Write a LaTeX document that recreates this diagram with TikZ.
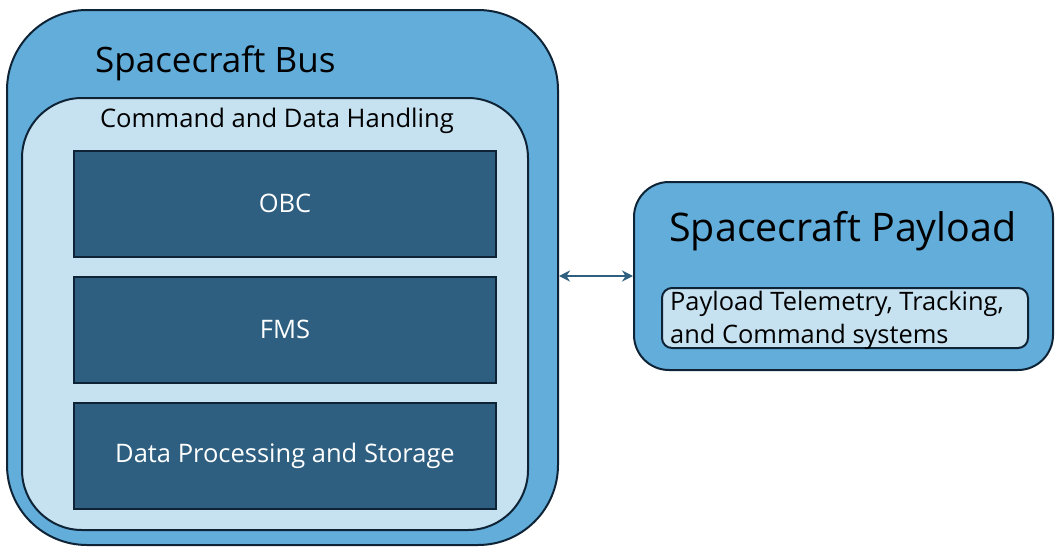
\documentclass[tikz,border=0pt]{standalone}
\usepackage{fontspec}
\setmainfont{Open Sans}
\usepackage{tikz}
\usetikzlibrary{arrows.meta, positioning}
\definecolor{busblue}{HTML}{63ADDA}
\definecolor{cdhlight}{HTML}{C6E2F1}
\definecolor{unitnavy}{HTML}{2E5F80}
\definecolor{edgedark}{HTML}{0E2436}

\begin{document}
\begin{tikzpicture}[
    x=1pt, y=-1pt,
    node distance=18pt,
    shell/.style={draw=edgedark,line width=2pt,fill=busblue},
    inner/.style={draw=edgedark,line width=2pt,fill=cdhlight},
    unit/.style={draw=edgedark,line width=2pt,fill=unitnavy,minimum width=422pt,minimum height=106pt,text=white,font=\fontsize{25.5}{30}\selectfont},
    title/.style={inner sep=0pt,font=\fontsize{35}{40}\selectfont},
    arr/.style={{Stealth[length=11pt,width=11pt]}-{Stealth[length=11pt,width=11pt]},line width=2pt,unitnavy},
  ]
    \useasboundingbox (0,0) rectangle (1060,552);

    % bus side
    \node[shell, rounded corners=80pt, minimum width=551pt, minimum height=535pt] (bus) at (282.5,277.5) {};
    \node[title, anchor=base west] (bustitle) at (95,72) {Spacecraft Bus};
    \node[inner, rounded corners=60pt, minimum width=506pt, minimum height=432pt] (cdh) at (275,314) {};
    \node[inner sep=0pt, font=\fontsize{25.6}{30}\selectfont, anchor=base] (cdhtitle) at (277,127) {Command and Data Handling};
    \node[unit] (obc) at (285,203.5) {OBC};
    \node[unit, below=of obc] (fms) {FMS};
    \node[unit, below=of fms] (dps) {Data Processing and Storage};

    % payload side
    \node[shell, rounded corners=35pt, minimum width=419pt, minimum height=188pt] (pay) at (843.5,276) {};
    \node[title, font=\fontsize{39.4}{44}\selectfont, anchor=base] (paytitle) at (843,241) {Spacecraft Payload};
    \node[inner, rounded corners=10pt, minimum width=366pt, minimum height=60pt] (ptc) at (845,318) {};
    \node[inner sep=0pt, align=left, anchor=base west, font=\fontsize{25.4}{33}\selectfont] (ptctext) at (670,343) {Payload Telemetry, Tracking,\\and Command systems};

    \draw[arr] (bus.east |- pay.west) -- (pay.west);
  \end{tikzpicture}
\end{document}
